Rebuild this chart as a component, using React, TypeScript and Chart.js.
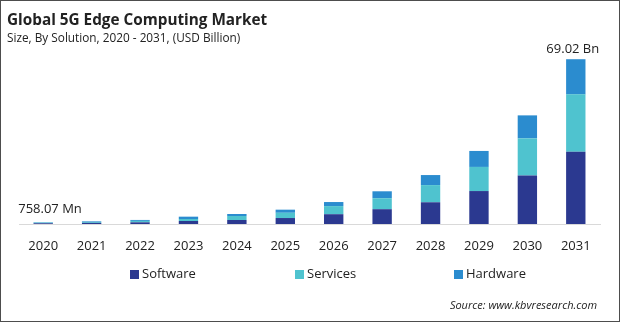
import React, { useEffect, useRef } from "react";
import { Chart, registerables } from "chart.js";

Chart.register(...registerables);

const years = ["2020", "2021", "2022", "2023", "2024", "2025", "2026", "2027", "2028", "2029", "2030", "2031"];
const software = [0.31, 0.47, 0.7, 1.26, 1.68, 2.5, 4.1, 6.2, 9.1, 13.8, 20.3, 30.3];
const services = [0.27, 0.37, 0.6, 0.84, 1.68, 2.2, 3.4, 4.6, 7.2, 10.1, 15.6, 24.0];
const hardware = [0.18, 0.26, 0.4, 0.97, 0.84, 1.3, 1.7, 2.9, 4.2, 6.7, 9.6, 14.72];
const seriesNames = ["Software", "Services", "Hardware"];
const firstLabel = "758.07 Mn";
const lastLabel = "69.02 Bn";

const COLORS = ["#2B3990", "#4FC3CF", "#2B8CCF"];
const FONT = "'Open Sans', 'Noto Sans', sans-serif";

const decorPlugin = {
  id: "decor",
  afterDraw(chart: any) {
    const ctx = chart.ctx;
    ctx.save();
    // title
    ctx.fillStyle = "#222";
    ctx.textAlign = "left";
    ctx.textBaseline = "alphabetic";
    ctx.font = `bold 15.3px ${FONT}`;
    ctx.fillText("Global 5G Edge Computing Market", 7, 25);
    ctx.font = `11.8px ${FONT}`;
    ctx.fillText("Size, By Solution, 2020 - 2031, (USD Billion)", 7, 42);

    // value labels
    const yScale = chart.scales.y;
    const meta0 = chart.getDatasetMeta(0);
    const n = years.length;
    const total0 = software[0] + services[0] + hardware[0];
    const totalN = software[n - 1] + services[n - 1] + hardware[n - 1];
    ctx.font = `13px ${FONT}`;
    ctx.fillStyle = "#222";
    const b0 = meta0.data[0];
    ctx.textAlign = "left";
    ctx.fillText(firstLabel, b0.x - 25, yScale.getPixelForValue(total0) - 9);
    const bN = meta0.data[n - 1];
    ctx.textAlign = "center";
    ctx.fillText(lastLabel, bN.x - 3, yScale.getPixelForValue(totalN) - 6);

    // legend
    const legendX = [130, 295, 454];
    ctx.textAlign = "left";
    ctx.textBaseline = "middle";
    ctx.font = `13px ${FONT}`;
    seriesNames.forEach((name, i) => {
      ctx.fillStyle = COLORS[i];
      ctx.fillRect(legendX[i], 270, 9, 9);
      ctx.fillStyle = "#222";
      ctx.fillText(name, legendX[i] + 12, 274.5);
    });

    // source
    ctx.font = `italic 11px ${FONT}`;
    ctx.textAlign = "right";
    ctx.textBaseline = "alphabetic";
    ctx.fillStyle = "#222";
    ctx.fillText("Source: www.kbvresearch.com", 597, 309);

    // border
    ctx.strokeStyle = "#4d4d4d";
    ctx.lineWidth = 1;
    ctx.strokeRect(0.5, 0.5, chart.width - 1, chart.height - 1);
    ctx.restore();
  },
};

export default function App() {
  const ref = useRef<HTMLCanvasElement | null>(null);
  useEffect(() => {
    if (!ref.current) return;
    const chart = new Chart(ref.current, {
      type: "bar",
      data: {
        labels: years,
        datasets: [software, services, hardware].map((d, i) => ({
          label: seriesNames[i],
          data: d,
          backgroundColor: COLORS[i],
          borderWidth: 0,
          barPercentage: 0.4,
          categoryPercentage: 1,
        })),
      },
      options: {
        responsive: false,
        animation: false,
        layout: { padding: { left: 19, right: 20, top: 33, bottom: 0 } },
        plugins: {
          legend: { display: false },
          title: { display: false },
          tooltip: { enabled: false },
        },
        scales: {
          x: {
            stacked: true,
            grid: { display: false, drawTicks: false },
            border: { display: true, color: "#d9d9d9", width: 1 },
            ticks: { color: "#222", font: { family: FONT, size: 13 }, padding: 14, maxRotation: 0 },
            afterFit(scale: any) {
              scale.height = 98;
            },
          },
          y: {
            stacked: true,
            display: false,
            min: 0,
            max: 80,
          },
        },
      },
      plugins: [decorPlugin],
    });
    return () => chart.destroy();
  }, []);
  return (
    <div style={{ position: "fixed", left: 0, top: 0, width: 620, height: 322, background: "#fff" }}>
      <canvas ref={ref} width={620} height={322} style={{ display: "block" }} />
    </div>
  );
}
